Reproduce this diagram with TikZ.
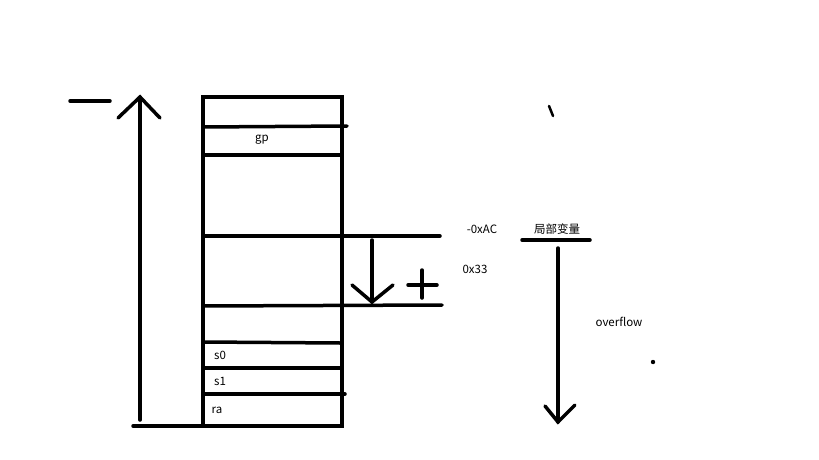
\documentclass[tikz,border=0pt]{standalone}
\usepackage{fontspec}
\setmainfont{Noto Sans CJK SC}
\begin{document}
\begin{tikzpicture}[x=1pt,y=-1pt,
  pen/.style={line width=3.5pt,line cap=round},
  lbl/.style={font=\fontsize{11.5}{13}\selectfont,inner sep=0pt}]
\useasboundingbox (0,0) rectangle (819,460);
\fill[white] (0,0) rectangle (819,460);
% stack box
\draw[pen] (203,97) rectangle (342,426);
\draw[pen] (203,127) -- (347,126);
\draw[pen] (203,155) -- (340,155);
\draw[pen] (203,236) -- (440,236);
\draw[pen] (203,306) -- (442,305);
\draw[pen] (203,342) -- (340,343);
\draw[pen] (203,368) -- (340,368);
\draw[pen] (203,394) -- (345,394);
\draw[pen] (133,426) -- (203,426);
\node[lbl] (gp) at (262,140) {gp};
\node[lbl] (s0) at (220,355) {s0};
\node[lbl] (s1) at (220,381) {s1};
\node[lbl] (ra) at (217,410) {ra};
% big up arrow
\coordinate (ub) at (140,420);
\coordinate (ut) at (140,97);
\draw[pen] (ub) -- (ut);
\draw[pen] (118,118) -- (ut) -- (160,118);
\draw[pen] (70,101) -- (110,101);
% small down arrow
\coordinate (dt) at (372,240);
\coordinate (db) at (372,302);
\draw[pen] (dt) -- (db);
\draw[pen] (352,285) -- (db) -- (393,285);
\draw[pen] (408,285) -- (437,285);
\draw[pen] (422,270) -- (422,298);
% labels
\node[lbl] (ac) at (482,229) {-0xAC};
\node[lbl] (x33) at (475,269) {0x33};
\node[lbl] (jb) at (557,229) {局部变量};
\draw[pen] (522,240) -- (590,240);
% long down arrow
\coordinate (lt) at (558,248);
\coordinate (lb) at (558,422);
\draw[pen] (lt) -- (lb);
\draw[pen] (545,406) -- (lb) -- (575,405);
\node[lbl] (ov) at (619,322) {overflow};
% stray marks
\draw[line width=2.5pt,line cap=round] (549,106) -- (553,116);
\fill (653,362) circle (2.2pt);
\end{tikzpicture}
\end{document}
